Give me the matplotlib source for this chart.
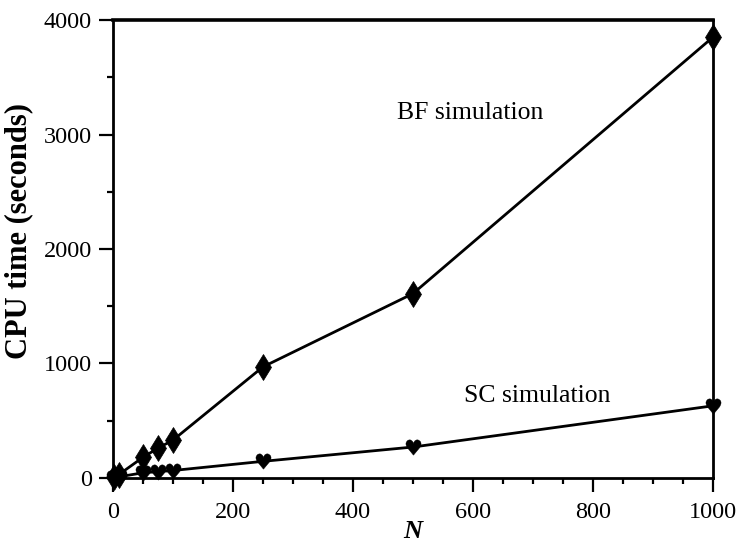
import matplotlib
matplotlib.use("Agg")
import matplotlib.pyplot as plt
from matplotlib.ticker import MultipleLocator

plt.rcParams["font.family"] = ["Liberation Serif", "DejaVu Sans"]

# Data
n_bf = [2, 10, 50, 75, 100, 250, 500, 1000]
cpu_bf = [5, 30, 180, 260, 330, 970, 1610, 3850]
n_sc = [2, 10, 50, 75, 100, 250, 500, 1000]
cpu_sc = [2, 10, 45, 55, 65, 145, 270, 630]

fig = plt.figure(figsize=(7.38, 5.5), dpi=100)
ax = fig.add_axes([0.153, 0.131, 0.813, 0.8326])

ax.plot(n_bf, cpu_bf, color="black", lw=2, marker="d", markersize=13,
        markeredgewidth=0.5, clip_on=False, zorder=3)
ax.plot(n_sc, cpu_sc, color="black", lw=2, marker="$\u2665$", markersize=11,
        markeredgewidth=0.3, clip_on=False, zorder=3)

ax.text(595, 3190, "BF simulation", fontsize=18.5, ha="center", va="center")
ax.text(707, 716, "SC simulation", fontsize=18.5, ha="center", va="center")

ax.set_xlim(0, 1000)
ax.set_ylim(0, 4000)
ax.xaxis.set_major_locator(MultipleLocator(200))
ax.xaxis.set_minor_locator(MultipleLocator(50))
ax.yaxis.set_major_locator(MultipleLocator(1000))
ax.yaxis.set_minor_locator(MultipleLocator(500))
ax.tick_params(which="both", direction="out", top=False, right=False,
               width=1.6, labelsize=17.5, pad=5)
ax.tick_params(axis="x", which="major", pad=7)
ax.tick_params(which="major", length=10)
ax.tick_params(which="minor", length=4.5)

for side in ["left", "right", "bottom"]:
    ax.spines[side].set_linewidth(2)
ax.spines["top"].set_linewidth(2.6)

ax.set_xlabel("N", fontsize=19, fontstyle="italic", fontweight="bold", labelpad=-2)
ax.set_ylabel("CPU time (seconds)", fontsize=22, fontweight="bold")
ax.yaxis.set_label_coords(-0.132, 0.54)

fig.savefig("out.png", dpi=100)
